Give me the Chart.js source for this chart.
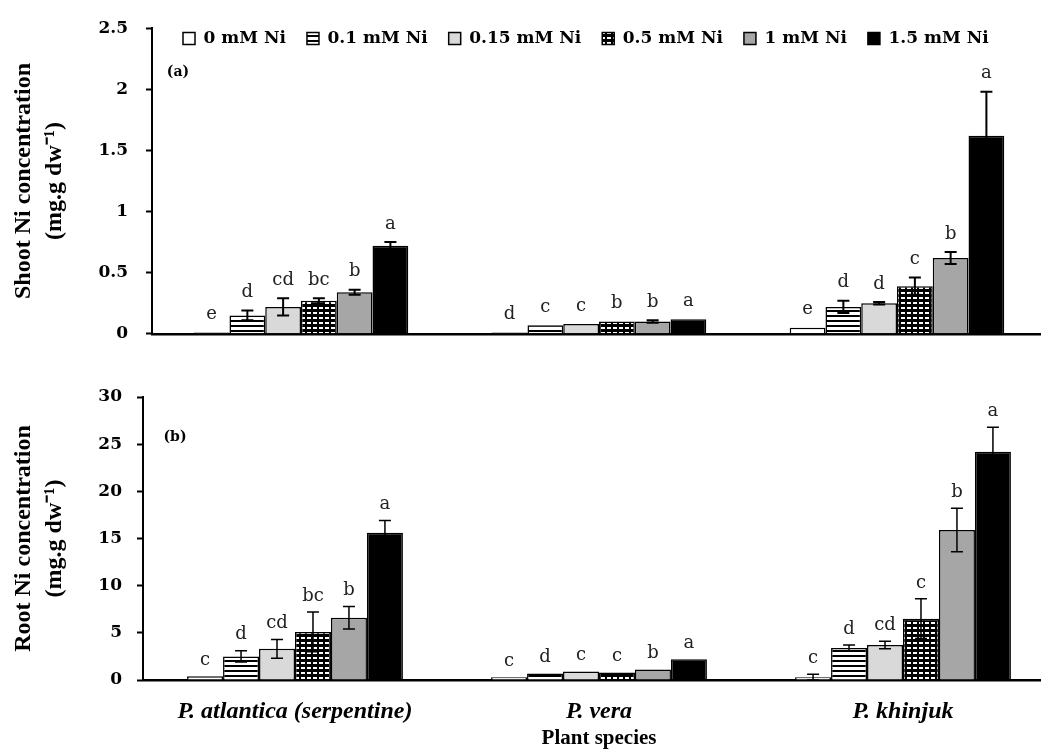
<!DOCTYPE html>
<html>
<head>
<meta charset="utf-8">
<script src="https://cdn.jsdelivr.net/npm/chart.js"></script>
<style>
  html, body { margin: 0; padding: 0; background: #fff; overflow: hidden; }
  .box { position: absolute; left: 0; width: 1041px; overflow: hidden; }
</style>
</head>
<body>
<div class="box" style="top:0;height:362px"><canvas id="shoot" width="1046" height="362"></canvas></div>
<div class="box" style="top:370px;height:382px"><canvas id="root" width="1055" height="382"></canvas></div>
<script>
const species = ['P. atlantica (serpentine)', 'P. vera', 'P. khinjuk'];
const treatments = ['0 mM Ni', '0.1 mM Ni', '0.15 mM Ni', '0.5 mM Ni', '1 mM Ni', '1.5 mM Ni'];

// one row per treatment, one column per species
const shootMean = [
  [0.01, 0.01, 0.05],
  [0.15, 0.07, 0.22],
  [0.22, 0.08, 0.25],
  [0.27, 0.10, 0.39],
  [0.34, 0.10, 0.62],
  [0.72, 0.12, 1.62]
];
const shootErr = [
  [0, 0, 0],
  [0.04, 0, 0.05],
  [0.07, 0, 0.01],
  [0.02, 0, 0.07],
  [0.02, 0.01, 0.05],
  [0.03, 0, 0.36]
];
const shootLetters = [
  ['e', 'd', 'e'],
  ['d', 'c', 'd'],
  ['cd', 'c', 'd'],
  ['bc', 'b', 'c'],
  ['b', 'b', 'b'],
  ['a', 'a', 'a']
];

const rootMean = [
  [0.4, 0.3, 0.3],
  [2.5, 0.7, 3.4],
  [3.3, 0.9, 3.7],
  [5.1, 0.8, 6.5],
  [6.6, 1.1, 15.9],
  [15.6, 2.2, 24.2]
];
const rootErr = [
  [0, 0, 0.3],
  [0.6, 0, 0.3],
  [1.0, 0, 0.4],
  [2.1, 0, 2.1],
  [1.2, 0, 2.3],
  [1.3, 0, 2.6]
];
const rootLetters = [
  ['c', 'c', 'c'],
  ['d', 'd', 'd'],
  ['cd', 'c', 'cd'],
  ['bc', 'c', 'c'],
  ['b', 'b', 'b'],
  ['a', 'a', 'a']
];

// fills
function tile(w, h, draw) {
  const c = document.createElement('canvas');
  c.width = w; c.height = h;
  const g = c.getContext('2d');
  draw(g);
  return g.createPattern(c, 'repeat');
}
const stripes = tile(6, 5, g => {
  g.fillStyle = '#fff'; g.fillRect(0, 0, 6, 5);
  g.fillStyle = '#000'; g.fillRect(0, 0, 6, 2);
});
const checks = tile(6, 5, g => {
  g.fillStyle = '#000'; g.fillRect(0, 0, 6, 5);
  g.fillStyle = '#fff'; g.fillRect(1, 2, 4, 2);
});
const fills = ['#ffffff', stripes, '#d9d9d9', checks, '#a6a6a6', '#000000'];

const marks = {
  id: 'marks',
  afterDatasetsDraw(chart, args, o) {
    const ctx = chart.ctx, y = chart.scales.y;
    ctx.save();
    ctx.strokeStyle = '#000';
    ctx.lineWidth = o.lw;
    ctx.fillStyle = '#222';
    ctx.font = '18px "DejaVu Serif"';
    ctx.textAlign = 'center';
    ctx.textBaseline = 'middle';
    chart.data.datasets.forEach((ds, i) => {
      chart.getDatasetMeta(i).data.forEach((bar, j) => {
        const v = ds.data[j], e = o.err[i][j];
        const top = y.getPixelForValue(v + e);
        if (e > 0) {
          const bot = y.getPixelForValue(v - e);
          ctx.beginPath();
          ctx.moveTo(bar.x, top); ctx.lineTo(bar.x, bot);
          ctx.moveTo(bar.x - 6, top); ctx.lineTo(bar.x + 6, top);
          ctx.moveTo(bar.x - 6, bot); ctx.lineTo(bar.x + 6, bot);
          ctx.stroke();
        }
        ctx.fillText(o.letters[i][j], bar.x, Math.min(top, bar.y) - o.gap);
      });
    });
    ctx.fillStyle = '#000';
    ctx.font = 'bold 14px "DejaVu Serif"';
    ctx.fillText(o.panel, o.px, o.py);
    ctx.restore();
  }
};

// legend row sits inside the plot area, just under the top
const placeLegend = {
  id: 'placeLegend',
  afterLayout(chart) {
    const l = chart.legend;
    if (!l || !l.options.display) return;
    l.left = 162;
    l.right = chart.width;
    l.top = 9;
    l.bottom = 60;
  }
};

function makeChart(id, p) {
  return new Chart(document.getElementById(id), {
    type: 'bar',
    data: {
      labels: species,
      datasets: treatments.map((t, i) => ({
        label: t,
        data: p.mean[i],
        backgroundColor: fills[i],
        borderColor: '#000',
        borderWidth: 1.5,
        categoryPercentage: p.cat,
        barPercentage: 1
      }))
    },
    options: {
      responsive: false,
      animation: false,
      devicePixelRatio: 1,
      layout: { padding: p.pad },
      plugins: {
        legend: {
          display: p.legend,
          position: 'top',
          align: 'start',
          maxHeight: 1,
          labels: {
            boxWidth: 12,
            boxHeight: 12,
            padding: 21,
            color: '#000',
            font: { family: 'DejaVu Serif', weight: 'bold', size: 17 }
          }
        },
        tooltip: { enabled: false },
        marks: { err: p.err, letters: p.letters, gap: p.gap, lw: p.lw, panel: p.panel, px: p.px, py: p.py }
      },
      scales: {
        x: {
          grid: { display: false, drawTicks: false },
          border: { display: true, color: '#000', width: 2.5 },
          ticks: {
            display: p.xlabels,
            padding: 17,
            color: '#000',
            font: { family: 'Liberation Serif', weight: 'bold', style: 'italic', size: 24 }
          },
          title: {
            display: p.xlabels,
            text: 'Plant species',
            color: '#000',
            padding: { top: 0, bottom: 1 },
            font: { family: 'Liberation Serif', weight: 'bold', size: 21 }
          },
          afterFit: s => { s.height = p.xh; }
        },
        y: {
          min: 0,
          max: p.max,
          grid: { drawOnChartArea: false, drawTicks: true, tickLength: 6, tickColor: '#000', tickWidth: 2 },
          border: { display: true, color: '#000', width: 2 },
          ticks: {
            stepSize: p.step,
            padding: p.tpad,
            color: '#000',
            font: { family: 'DejaVu Serif', weight: 'bold', size: 17 },
            callback: v => String(+v.toFixed(2))
          },
          title: {
            display: true,
            text: p.title,
            color: '#000',
            padding: { top: 8, bottom: 0 },
            font: { family: 'Liberation Serif', weight: 'bold', size: 24, lineHeight: 1.3 }
          },
          afterFit: s => { s.width = p.yw; }
        }
      }
    },
    plugins: [marks, placeLegend]
  });
}

makeChart('shoot', {
  mean: shootMean, err: shootErr, letters: shootLetters,
  max: 2.5, step: 0.5, yw: 152, tpad: 18, xh: 0, xlabels: false, legend: true,
  pad: { top: 26, right: 0, bottom: 19, left: 0 }, cat: 0.72, gap: 18, lw: 2,
  title: ['Shoot Ni concentration', '(mg.g dw\u207B\u00B9)'],
  panel: '(a)', px: 178, py: 72
});

makeChart('root', {
  mean: rootMean, err: rootErr, letters: rootLetters,
  max: 30, step: 5, yw: 143, tpad: 15, xh: 72, xlabels: true, legend: false,
  pad: { top: 27, right: 0, bottom: 0, left: 0 }, cat: 0.71, gap: 16, lw: 1.5,
  title: ['Root Ni concentration', '(mg.g dw\u207B\u00B9)'],
  panel: '(b)', px: 175, py: 67
});
</script>
</body>
</html>
